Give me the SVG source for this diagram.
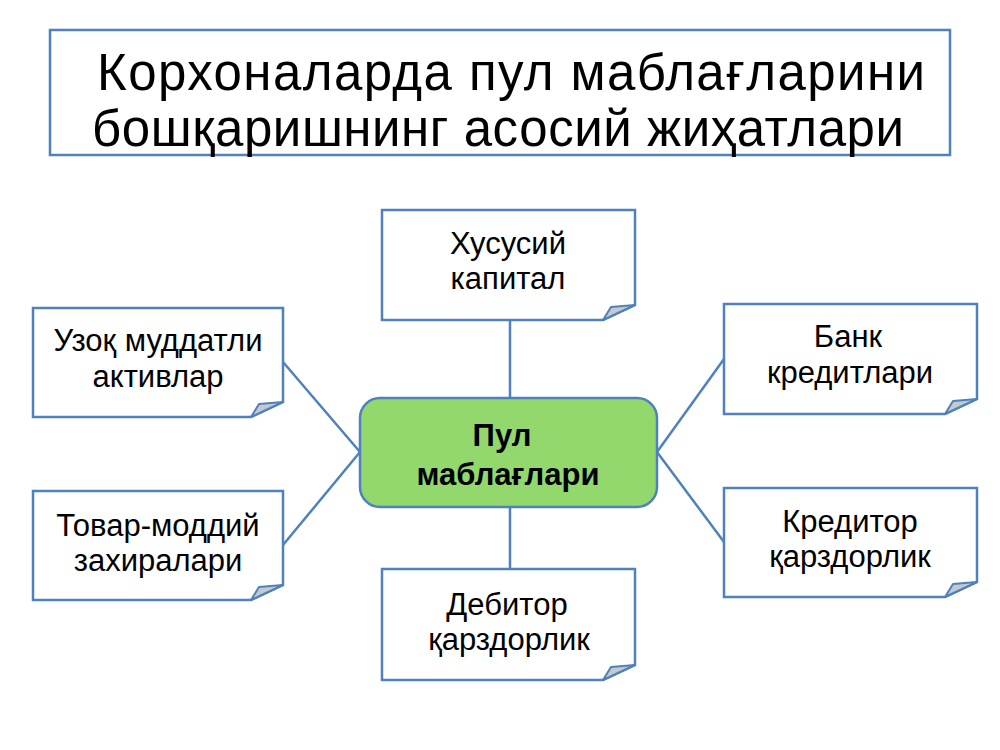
<svg xmlns="http://www.w3.org/2000/svg" width="1000" height="750" viewBox="0 0 1000 750">
<style>
.box{fill:#ffffff;stroke:#4f81bd;stroke-width:2.5;stroke-linejoin:miter}
.flap{fill:#c4c8cf;stroke:#4f81bd;stroke-width:2;stroke-linejoin:round}
.conn{stroke:#4f81bd;stroke-width:2.5;fill:none}
.t{font-family:"Liberation Sans","Noto Sans",sans-serif;font-size:31px;fill:#000;text-anchor:middle}
.title{font-family:"Liberation Sans","Noto Sans",sans-serif;font-size:51px;fill:#000;text-anchor:middle}
.c{font-family:"Liberation Sans","Noto Sans",sans-serif;font-size:31px;font-weight:bold;fill:#000;text-anchor:middle}
</style>
<rect width="1000" height="750" fill="#ffffff"/>
<g id="title">
<rect x="50" y="30" width="900" height="125" fill="#ffffff" stroke="#4f81bd" stroke-width="2.5"/>
<text class="title" x="511" y="90" textLength="828">Корхоналарда пул маблағларини</text>
<text class="title" x="498" y="146" textLength="812">бошқаришнинг асосий жиҳатлари</text>
</g>
<g id="connectors">
<path class="conn" d="M510,398 V320"/>
<path class="conn" d="M510,507 V569"/>
<path class="conn" d="M360,452 L283,362"/>
<path class="conn" d="M360,452 L283,545"/>
<path class="conn" d="M657,452 L724,359"/>
<path class="conn" d="M657,452 L724,542"/>
</g>
<g id="center">
<rect x="360" y="398" width="297" height="109" rx="20" ry="20" fill="#92d86c" stroke="#4f81bd" stroke-width="2.5"/>
<text class="c" x="502" y="446">Пул</text>
<text class="c" x="508" y="485">маблағлари</text>
</g>
<g id="node-xususiy">
<path class="box" d="M382,210 H635 V305 L603,320 H382 Z"/>
<path class="flap" d="M603,320 L611,307 L635,305 Z"/>
<text class="t" x="508" y="254">Хусусий</text>
<text class="t" x="508" y="289">капитал</text>
</g>
<g id="node-uzoq">
<path class="box" d="M33,308 H283 V402 L251,417 H33 Z"/>
<path class="flap" d="M251,417 L259,404 L283,402 Z"/>
<text class="t" x="158" y="351">Узоқ муддатли</text>
<text class="t" x="158" y="387">активлар</text>
</g>
<g id="node-tovar">
<path class="box" d="M33,491 H283 V585 L251,600 H33 Z"/>
<path class="flap" d="M251,600 L259,587 L283,585 Z"/>
<text class="t" x="158" y="536">Товар-моддий</text>
<text class="t" x="158" y="571">захиралари</text>
</g>
<g id="node-bank">
<path class="box" d="M724,304 H977 V399 L945,414 H724 Z"/>
<path class="flap" d="M945,414 L953,401 L977,399 Z"/>
<text class="t" x="848" y="347">Банк</text>
<text class="t" x="850" y="383">кредитлари</text>
</g>
<g id="node-kreditor">
<path class="box" d="M724,488 H977 V582 L945,597 H724 Z"/>
<path class="flap" d="M945,597 L953,584 L977,582 Z"/>
<text class="t" x="850" y="532">Кредитор</text>
<text class="t" x="850" y="567">қарздорлик</text>
</g>
<g id="node-debitor">
<path class="box" d="M382,569 H635 V665 L603,680 H382 Z"/>
<path class="flap" d="M603,680 L611,667 L635,665 Z"/>
<text class="t" x="507" y="615">Дебитор</text>
<text class="t" x="509" y="650">қарздорлик</text>
</g>
</svg>
